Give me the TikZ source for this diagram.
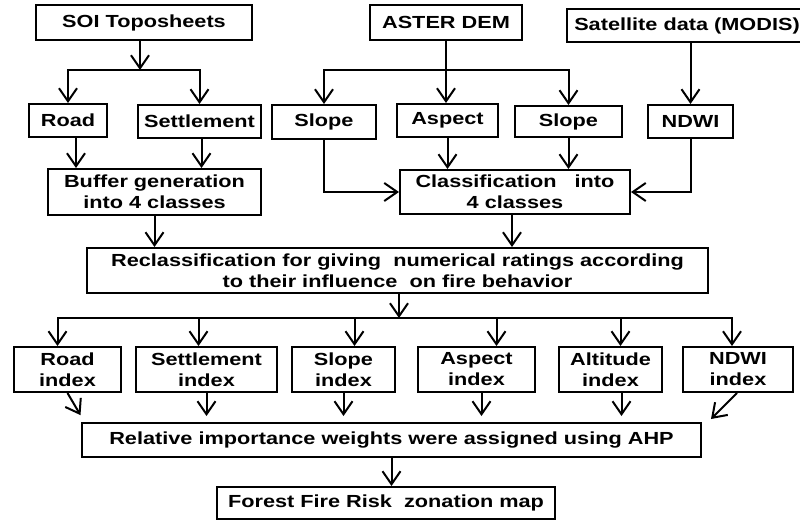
\documentclass[tikz,border=0pt]{standalone}
\usepackage{fontspec}
\setmainfont{Liberation Sans}[FakeStretch=1.24]
\usetikzlibrary{arrows.meta}

\begin{document}
\begin{tikzpicture}[
    x=1pt, y=-1pt,
    box/.style={draw, line width=2pt, align=center, inner sep=0pt,
        font=\bfseries\fontsize{17.5}{21}\selectfont},
    arr/.style={line width=2pt, -{Straight Barb[length=13pt,width=18pt,line width=2pt]}}
]
\useasboundingbox (0,0) rectangle (800,521);

% sources
\node[box, minimum width=216, minimum height=35] (soi) at (144,22.5) {SOI Toposheets};
\node[box, minimum width=152, minimum height=35] (aster) at (446,22.5) {ASTER DEM};
\node[box, minimum width=240, minimum height=33] (modis) at (687,26) {Satellite data (MODIS)};

% layers
\node[box, minimum width=78, minimum height=33] (road) at (68,120.5) {Road};
\node[box, minimum width=123, minimum height=33] (settle) at (199.5,121.5) {Settlement};
\node[box, minimum width=104, minimum height=34] (slopeA) at (324,122) {Slope};
\node[box, minimum width=101, minimum height=33] (aspect) at (447.5,120.5) {Aspect};
\node[box, minimum width=107, minimum height=31] (slopeB) at (568.5,121.5) {Slope};
\node[box, minimum width=85, minimum height=33] (ndwi) at (690.5,121.5) {NDWI};

% processing
\node[box, minimum width=213, minimum height=46] (buffer) at (154.5,192) {Buffer generation\\into 4 classes};
\node[box, minimum width=230, minimum height=44] (classif) at (515,192) {Classification \ \ into\\4 classes};
\node[box, minimum width=621, minimum height=45] (reclass) at (397.5,270.5)
    {Reclassification for giving \ numerical ratings according\\to their influence \ on fire behavior};

% indices
\node[box, minimum width=107, minimum height=45] (ri) at (67.5,369.5) {Road\\index};
\node[box, minimum width=141, minimum height=45] (si) at (206.5,369.5) {Settlement\\index};
\node[box, minimum width=103, minimum height=45] (sli) at (343.5,369.5) {Slope\\index};
\node[box, minimum width=117, minimum height=45] (ai) at (476.5,369.5) {Aspect\\index};
\node[box, minimum width=103, minimum height=45] (alti) at (610.5,369.5) {Altitude\\index};
\node[box, minimum width=110, minimum height=45] (ni) at (738,369.5) {NDWI\\index};

% weighting and result
\node[box, minimum width=619, minimum height=34] (relw) at (391.5,440) {Relative importance weights were assigned using AHP};
\node[box, minimum width=338, minimum height=32] (risk) at (386,503) {Forest Fire Risk \ zonation map};

\coordinate (soisplit) at (140,70);
\coordinate (astersplit) at (446,70);
\coordinate (recsplit) at (399,318);

% connectors
\draw[arr] (soi.south -| soisplit) -- (soisplit);
\draw[arr] (soisplit) -| (road);
\draw[arr] (soisplit) -| (settle);
\draw[arr] (aster.south) -- (aster.south |- aspect.north);
\draw[arr] (astersplit) -| (slopeA);
\draw[arr] (astersplit) -| (slopeB);
\draw[arr] (ndwi |- modis.south) -- (ndwi.north);

\draw[arr] ([xshift=8]road.south) -- ([xshift=8]road.south |- buffer.north);
\draw[arr] ([xshift=2]settle.south) -- ([xshift=2]settle.south |- buffer.north);
\draw[arr] (slopeA.south) |- (classif.west);
\draw[arr] (aspect.south) -- (aspect.south |- classif.north);
\draw[arr] (slopeB.south) -- (slopeB.south |- classif.north);
\draw[arr] (ndwi.south) |- (classif.east);

\draw[arr] (buffer.south) -- (buffer.south |- reclass.north);
\draw[arr] ([xshift=-3]classif.south) -- ([xshift=-3]classif.south |- reclass.north);
\draw[arr] (reclass.south -| recsplit) -- (recsplit);
\foreach \n/\dx in {ri/-10, si/-8, sli/11, ai/20, alti/10, ni/-6}
    \draw[arr] (recsplit) -| ([xshift=\dx]\n.north);

\draw[arr, shorten >=1pt] (ri.south) -- ([yshift=6]relw.north west);
\foreach \n/\dx in {si/0, sli/0, ai/5, alti/11}
    \draw[arr, shorten >=6pt] ([xshift=\dx]\n.south) -- ([xshift=\dx]\n.south |- relw.north);
\draw[arr] ([xshift=-1]ni.south) -- ([xshift=9,yshift=3]relw.north east);
\draw[arr] (relw.south) -- (relw.south |- risk.north);
\end{tikzpicture}
\end{document}
